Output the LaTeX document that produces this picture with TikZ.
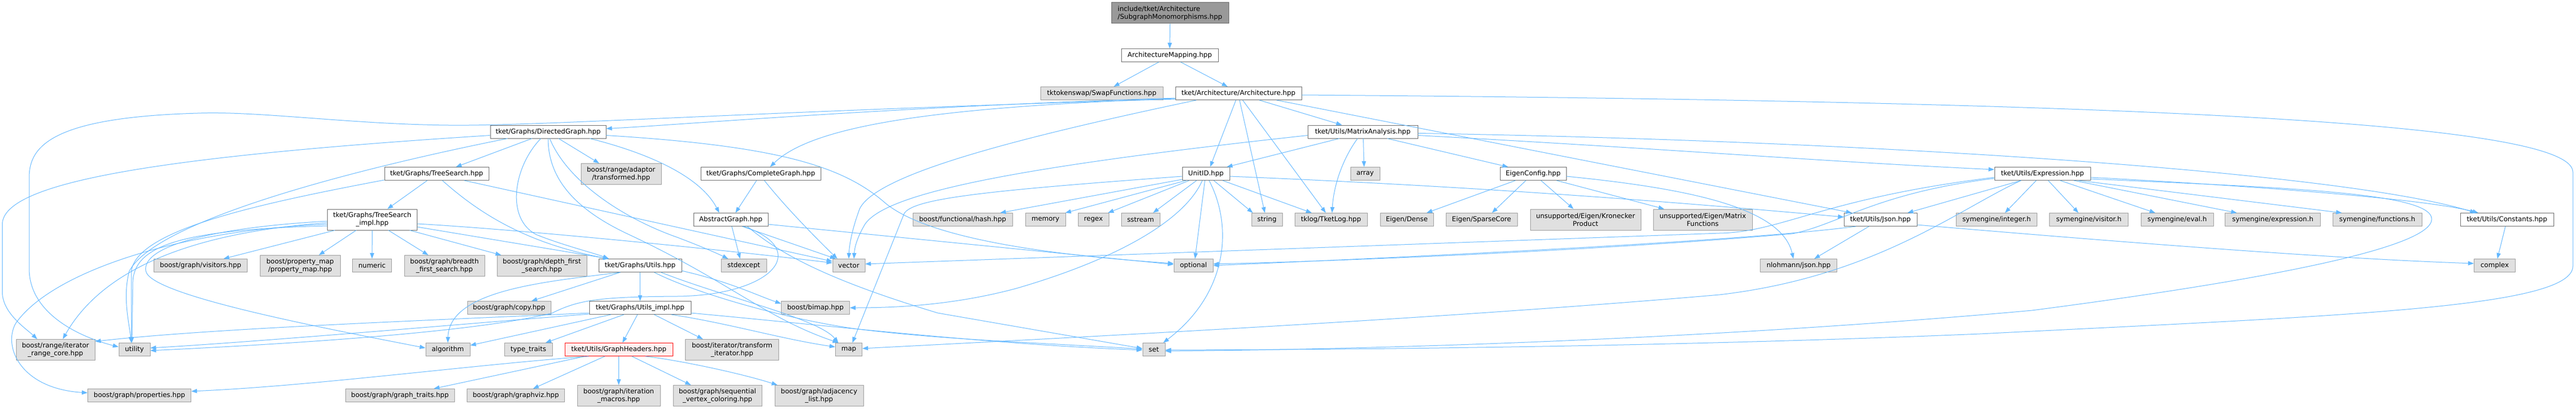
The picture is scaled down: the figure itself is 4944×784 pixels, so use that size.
\documentclass[tikz,border=0pt]{standalone}
\usepackage{fontspec}
\setmainfont{DejaVu Sans}
\usetikzlibrary{arrows.meta}
\definecolor{edgec}{HTML}{63B8FF}
\definecolor{cdk}{HTML}{666666}
\definecolor{cmd}{HTML}{999999}
\definecolor{cfl}{HTML}{E0E0E0}
\definecolor{cpk}{HTML}{FFF0F0}
\tikzset{
  nb/.style={rectangle, inner sep=0pt, line width=1pt, align=center, text=black, font=\fontsize{12.8}{15}\selectfont},
  wn/.style={nb, draw=cdk, fill=white},
  gn/.style={nb, draw=cmd, fill=cfl},
  tn/.style={nb, draw=cdk, fill=cmd, align=left},
  rn/.style={nb, draw=red, fill=cpk},
  edg/.style={draw=edgec, line width=1pt, -{Triangle[length=11pt,width=8pt]}}
}
\newcommand{\mknd}[6]{\node[#1,minimum width=#4pt,minimum height=#5pt] (#2) at (#3) {#6};}
\begin{document}
\begin{tikzpicture}[x=1pt,y=-1pt]
\useasboundingbox (0,0) rectangle (4944,784);
\fill[white] (0,0) rectangle (4944,784);
% nodes
\mknd{tn}{top}{2245.5,25}{225}{40}{include/tket/Architecture\\/SubgraphMonomorphisms.hpp}
\mknd{wn}{am}{2245,106}{186}{25}{ArchitectureMapping.hpp}
\mknd{gn}{swap}{2114.5,179}{235}{25}{tktokenswap/SwapFunctions.hpp}
\mknd{wn}{arch}{2377,179}{242}{25}{tket/Architecture/Architecture.hpp}
\mknd{wn}{dg}{1052,252.5}{222}{25}{tket/Graphs/DirectedGraph.hpp}
\mknd{wn}{ma}{2615.5,252.5}{211}{25}{tket/Utils/MatrixAnalysis.hpp}
\mknd{wn}{ts}{838,333}{200}{25}{tket/Graphs/TreeSearch.hpp}
\mknd{gn}{tr}{1192,333.5}{154}{40}{boost/range/adaptor\\/transformed.hpp}
\mknd{wn}{cg}{1460,333}{230}{25}{tket/Graphs/CompleteGraph.hpp}
\mknd{wn}{uid}{2314.5,333}{91}{25}{UnitID.hpp}
\mknd{gn}{arr}{2620,333}{56}{25}{array}
\mknd{wn}{ec}{2942.5,333}{127}{25}{EigenConfig.hpp}
\mknd{wn}{ex}{3920,333}{184}{25}{tket/Utils/Expression.hpp}
\mknd{wn}{tsi}{714.5,421}{172}{40}{tket/Graphs/TreeSearch\\\_impl.hpp}
\mknd{wn}{ag}{1402.5,421}{143}{25}{AbstractGraph.hpp}
\mknd{gn}{hash}{1847.5,421}{191}{25}{boost/functional/hash.hpp}
\mknd{gn}{mem}{2006.5,421}{77}{25}{memory}
\mknd{gn}{rgx}{2098.5,421}{59}{25}{regex}
\mknd{gn}{sst}{2189,421}{74}{25}{sstream}
\mknd{gn}{str}{2431.5,421}{59}{25}{string}
\mknd{gn}{log}{2554.5,421}{139}{25}{tklog/TketLog.hpp}
\mknd{gn}{dense}{2700,421}{102}{25}{Eigen/Dense}
\mknd{gn}{sparse}{2843.5,421}{137}{25}{Eigen/SparseCore}
\mknd{gn}{kron}{3043,421}{212}{40}{unsupported/Eigen/Kronecker\\Product}
\mknd{gn}{mfun}{3268,421}{190}{40}{unsupported/Eigen/Matrix\\Functions}
\mknd{wn}{json}{3609,421}{140}{25}{tket/Utils/Json.hpp}
\mknd{gn}{sint}{3832,421}{155}{25}{symengine/integer.h}
\mknd{gn}{svis}{4009,421}{151}{25}{symengine/visitor.h}
\mknd{gn}{seval}{4178.5,421}{139}{25}{symengine/eval.h}
\mknd{gn}{sexp}{4362,421}{183}{25}{symengine/expression.h}
\mknd{gn}{sfun}{4562.5,421}{171}{25}{symengine/functions.h}
\mknd{wn}{const}{4811.5,421}{179}{25}{tket/Utils/Constants.hpp}
\mknd{gn}{vis}{385,509}{179}{25}{boost/graph/visitors.hpp}
\mknd{gn}{pmap}{576,509.5}{154}{40}{boost/property\_map\\/property\_map.hpp}
\mknd{gn}{num}{714,509}{75}{25}{numeric}
\mknd{gn}{bfs}{853,509.5}{154}{40}{boost/graph/breadth\\\_first\_search.hpp}
\mknd{gn}{dfs}{1040,509.5}{172}{40}{boost/graph/depth\_first\\\_search.hpp}
\mknd{wn}{gu}{1228.5,509}{159}{25}{tket/Graphs/Utils.hpp}
\mknd{gn}{stdx}{1427.5,509}{87}{25}{stdexcept}
\mknd{gn}{vec}{1629,509}{62}{25}{vector}
\mknd{gn}{opt}{2290.5,509}{75}{25}{optional}
\mknd{gn}{nl}{3452,509}{147}{25}{nlohmann/json.hpp}
\mknd{gn}{cplx}{4788,509}{79}{25}{complex}
\mknd{gn}{copy}{977,590}{160}{25}{boost/graph/copy.hpp}
\mknd{wn}{gui}{1228.5,590}{195}{25}{tket/Graphs/Utils\_impl.hpp}
\mknd{gn}{bimap}{1565,590}{131}{25}{boost/bimap.hpp}
\mknd{gn}{irc}{106.5,670.5}{151}{40}{boost/range/iterator\\\_range\_core.hpp}
\mknd{gn}{util}{258,670}{60}{25}{utility}
\mknd{gn}{alg}{859.5,670}{85}{25}{algorithm}
\mknd{gn}{tt}{1014,670}{92}{25}{type\_traits}
\mknd{rn}{gh}{1187.7,670}{207}{25}{tket/Utils/GraphHeaders.hpp}
\mknd{gn}{ti}{1405,670.5}{179}{40}{boost/iterator/transform\\\_iterator.hpp}
\mknd{gn}{map}{1629,670}{51}{25}{map}
\mknd{gn}{set}{2214.5,670}{43}{25}{set}
\mknd{gn}{prop}{267.6,758}{198}{25}{boost/graph/properties.hpp}
\mknd{gn}{gt}{767.5,758}{209}{25}{boost/graph/graph\_traits.hpp}
\mknd{gn}{gv}{990,758}{187}{25}{boost/graph/graphviz.hpp}
\mknd{gn}{im}{1187.5,758.5}{159}{40}{boost/graph/iteration\\\_macros.hpp}
\mknd{gn}{svc}{1377,758.5}{170}{40}{boost/graph/sequential\\\_vertex\_coloring.hpp}
\mknd{gn}{adj}{1572,758.5}{170}{40}{boost/graph/adjacency\\\_list.hpp}
% edges: top levels
\draw[edg] (top.south) -- (am.north);
\draw[edg] ([xshift=-21pt]am.south) -- ([xshift=23pt]swap.north);
\draw[edg] ([xshift=21pt]am.south) -- ([xshift=-21pt]arch.north);
% Architecture
\draw[edg] ([yshift=-9pt]arch.west) .. controls (1700,205) and (1300,240) .. ([yshift=6pt]dg.east);
\draw[edg] ([yshift=-10pt]arch.west) .. controls (1800,205) and (1560,240) .. ([xshift=18pt]cg.north);
\draw[edg] ([yshift=-11pt]arch.west) .. controls (1500,212) and (1100,238) .. (900,240) .. controls (700,242) and (500,212) .. (379,217) .. controls (100,225) and (56,280) .. (56,340) -- (56,515) .. controls (56,600) and (150,645) .. ([yshift=5pt]util.west);
\draw[edg] ([xshift=-81pt]arch.south) .. controls (1900,275) and (1680,340) .. (1650,400) .. controls (1635,440) and (1630,470) .. (vec.north);
\draw[edg] ([xshift=-5pt]arch.south) -- ([xshift=8pt]uid.north);
\draw[edg] ([xshift=2pt]arch.south) -- ([xshift=-4pt]str.north);
\draw[edg] ([xshift=8pt]arch.south) -- ([xshift=-10pt]log.north);
\draw[edg] ([xshift=40pt]arch.south) -- ([xshift=-40pt]ma.north);
\draw[edg] ([xshift=73pt]arch.south) -- ([xshift=-55pt]json.north);
\draw[edg] ([yshift=-3pt]arch.east) .. controls (4200,195) and (4938,240) .. (4938,330) -- (4938,510) .. controls (4938,590) and (4500,605) .. (3800,640) .. controls (3200,665) and (2600,670) .. ([yshift=-1pt]set.east);
% MatrixAnalysis
\draw[edg] ([yshift=-7pt]ma.west) .. controls (1950,320) and (1700,370) .. (1660,430) .. controls (1645,455) and (1640,475) .. ([xshift=10pt]vec.north);
\draw[edg] ([xshift=-45pt]ma.south) -- ([xshift=40pt]uid.north);
\draw[edg] ([xshift=-10pt]ma.south) .. controls (2580,300) and (2560,350) .. ([xshift=2pt]log.north);
\draw[edg] ([xshift=1pt]ma.south) -- ([xshift=-2pt]arr.north);
\draw[edg] ([xshift=47pt]ma.south) -- ([xshift=-48pt]ec.north);
\draw[edg] ([yshift=-7pt]ma.east) .. controls (3200,285) and (3500,310) .. ([yshift=8pt]ex.west);
\draw[edg] ([yshift=-3pt]ma.east) .. controls (3600,270) and (4500,330) .. ([xshift=-60pt]const.north);
% UnitID
\draw[edg] ([yshift=-5pt]uid.west) .. controls (1900,365) and (1750,380) .. (1735,410) -- ([xshift=7pt]map.north);
\draw[edg] ([yshift=-11pt]uid.west) -- ([xshift=72pt]hash.north);
\draw[edg] ([xshift=-38pt]uid.south) -- ([xshift=38pt]mem.north);
\draw[edg] ([xshift=-32pt]uid.south) -- ([xshift=28pt]rgx.north);
\draw[edg] ([xshift=-18pt]uid.south) -- ([xshift=24pt]sst.north);
\draw[edg] ([xshift=-7pt]uid.south) .. controls (2275,420) and (2150,495) .. (1950,553) .. controls (1830,585) and (1720,590) .. (bimap.east);
\draw[edg] ([xshift=-2pt]uid.south) -- ([xshift=3pt]opt.north);
\draw[edg] ([xshift=6pt]uid.south) .. controls (2365,430) and (2360,560) .. ([xshift=18pt]set.north);
\draw[edg] ([xshift=15pt]uid.south) -- ([xshift=-27pt]str.north);
\draw[edg] ([xshift=32pt]uid.south) -- ([xshift=-37pt]log.north);
\draw[edg] ([yshift=-5pt]uid.east) .. controls (2900,360) and (3300,395) .. ([yshift=5pt]json.west);
% EigenConfig
\draw[edg] ([xshift=-34pt]ec.south) -- ([xshift=38pt]dense.north);
\draw[edg] ([xshift=-14pt]ec.south) -- ([xshift=20pt]sparse.north);
\draw[edg] ([xshift=15pt]ec.south) -- ([xshift=-23pt]kron.north);
\draw[edg] ([xshift=45pt]ec.south) -- ([xshift=-74pt]mfun.north);
\draw[edg] ([yshift=-5pt]ec.east) .. controls (3250,362) and (3420,400) .. ([xshift=-10pt]nl.north);
% Expression
\draw[edg] ([xshift=-41pt]ex.south) -- ([xshift=52pt]json.north);
\draw[edg] ([xshift=-12pt]ex.south) -- ([xshift=16pt]sint.north);
\draw[edg] ([xshift=11pt]ex.south) -- ([xshift=-20pt]svis.north);
\draw[edg] ([xshift=34pt]ex.south) -- ([xshift=-42pt]seval.north);
\draw[edg] ([xshift=60pt]ex.south) -- ([xshift=-69pt]sexp.north);
\draw[edg] ([xshift=69pt]ex.south) -- ([xshift=-68pt]sfun.north);
\draw[edg] ([yshift=-7pt]ex.east) .. controls (4300,355) and (4650,380) .. ([xshift=-55pt]const.north);
\draw[edg] ([yshift=-10pt]ex.east) .. controls (4400,360) and (4667,370) .. (4667,420) .. controls (4667,470) and (4400,530) .. (3900,595) .. controls (3400,640) and (2800,668) .. ([yshift=-3pt]set.east);
\draw[edg] ([yshift=-9pt]ex.west) .. controls (3600,370) and (3530,430) .. (3440,448) .. controls (3100,478) and (2600,500) .. ([yshift=3pt]opt.east);
\draw[edg] ([yshift=-7pt]ex.west) .. controls (3500,380) and (3420,445) .. (3300,447) -- ([yshift=3pt]vec.east);
\draw[edg] ([xshift=-41pt]ex.south) .. controls (3760,400) and (3600,530) .. (3300,565) .. controls (2800,608) and (2200,640) .. ([yshift=2pt]map.east);
% Json, Constants
\draw[edg] ([xshift=-22pt]json.south) -- ([xshift=30pt]nl.north);
\draw[edg] ([yshift=-10pt]json.east) .. controls (4000,458) and (4450,495) .. ([yshift=4pt]cplx.west);
\draw[edg] ([xshift=-47pt]json.south) .. controls (3400,455) and (3000,480) .. (opt.east);
\draw[edg] ([xshift=-3pt]const.south) -- ([xshift=5pt]cplx.north);
% DirectedGraph
\draw[edg] ([yshift=-7pt]dg.west) .. controls (300,300) and (4.5,350) .. (4.5,430) -- (4.5,560) .. controls (4.5,600) and (50,630) .. ([xshift=-35pt]irc.north);
\draw[edg] ([xshift=-78pt]dg.south) .. controls (700,320) and (300,420) .. (248,520) .. controls (235,570) and (248,620) .. ([xshift=-6pt]util.north);
\draw[edg] ([xshift=-31pt]dg.south) -- ([xshift=37pt]ts.north);
\draw[edg] ([xshift=-14pt]dg.south) .. controls (985,320) and (970,420) .. (1030,450) .. controls (1080,470) and (1140,485) .. ([xshift=-60pt]gu.north);
\draw[edg] (dg.south) .. controls (1052,340) and (1100,400) .. (1208,450) .. controls (1400,540) and (1470,610) .. ([xshift=-20pt]map.north);
\draw[edg] ([xshift=3pt]dg.south) .. controls (1090,350) and (1200,420) .. (1300,455) .. controls (1340,470) and (1375,485) .. ([xshift=-30pt]stdx.north);
\draw[edg] ([xshift=20pt]dg.south) -- ([xshift=-42pt]tr.north);
\draw[edg] ([xshift=80pt]dg.south) .. controls (1250,295) and (1345,340) .. ([xshift=-22pt]ag.north);
\draw[edg] ([yshift=-7pt]dg.east) .. controls (1500,280) and (1620,320) .. (1700,390) .. controls (1780,455) and (2000,488) .. ([yshift=4pt]opt.west);
% TreeSearch
\draw[edg] ([xshift=-18pt]ts.south) -- ([xshift=29pt]tsi.north);
\draw[edg] ([xshift=11pt]ts.south) .. controls (910,400) and (1000,465) .. ([xshift=-60pt]gu.north);
\draw[edg] ([xshift=53pt]ts.south) -- ([yshift=8pt]vec.west);
\draw[edg] ([yshift=-12pt]ts.west) .. controls (500,390) and (262,440) .. (252,520) -- ([xshift=-6pt]util.north);
% TreeSearch_impl
\draw[edg] ([xshift=-72pt]tsi.south) -- ([xshift=44pt]vis.north);
\draw[edg] ([xshift=-31pt]tsi.south) -- ([xshift=36pt]pmap.north);
\draw[edg] (tsi.south) -- (num.north);
\draw[edg] ([xshift=31pt]tsi.south) -- ([xshift=-31pt]bfs.north);
\draw[edg] ([xshift=72pt]tsi.south) -- ([xshift=-78pt]dfs.north);
\draw[edg] ([yshift=-14pt]tsi.east) -- ([xshift=-60pt]gu.north);
\draw[edg] ([yshift=-8pt]tsi.east) .. controls (1000,440) and (1400,480) .. ([yshift=5pt]vec.west);
\draw[edg] ([yshift=-3pt]tsi.west) .. controls (420,435) and (270,470) .. (280,520) .. controls (290,565) and (600,625) .. ([yshift=3pt]alg.west);
\draw[edg] ([yshift=-6pt]tsi.west) .. controls (380,445) and (200,510) .. ([xshift=14pt]irc.north);
\draw[edg] ([yshift=-9pt]tsi.west) .. controls (350,440) and (100,520) .. (30,620) .. controls (5,665) and (40,745) .. ([yshift=5pt]prop.west);
\draw[edg] ([yshift=-12pt]tsi.west) .. controls (350,440) and (258,470) .. (255,540) -- ([xshift=-5pt]util.north);
% Graphs/Utils
\draw[edg] ([xshift=-38pt]gu.south) .. controls (1050,540) and (862,555) .. (alg.north);
\draw[edg] ([xshift=-38pt]gu.south) -- ([xshift=43pt]copy.north);
\draw[edg] (gu.south) -- (gui.north);
\draw[edg] ([yshift=-10pt]gu.east) .. controls (1400,540) and (1450,565) .. ([yshift=8pt]bimap.west);
\draw[edg] ([xshift=27pt]gu.south) .. controls (1330,560) and (1500,610) .. (1640,630) .. controls (1800,650) and (1950,655) .. ([yshift=1pt]set.west);
\draw[edg] ([xshift=40pt]gu.south) .. controls (1390,570) and (1570,610) .. ([xshift=-20pt]map.north);
% Utils_impl
\draw[edg] ([yshift=-10pt]gui.west) .. controls (800,615) and (400,630) .. ([yshift=16pt]irc.east);
\draw[edg] ([yshift=-12pt]gui.west) .. controls (900,620) and (500,655) .. ([yshift=3pt]util.east);
\draw[edg] ([xshift=-56pt]gui.south) -- ([yshift=8pt]alg.east);
\draw[edg] ([xshift=-31pt]gui.south) -- ([xshift=33pt]tt.north);
\draw[edg] ([xshift=-5pt]gui.south) -- ([xshift=7pt]gh.north);
\draw[edg] ([xshift=27pt]gui.south) -- ([xshift=-56pt]ti.north);
\draw[edg] ([xshift=60pt]gui.south) .. controls (1400,620) and (1500,650) .. ([yshift=5pt]map.west);
\draw[edg] ([yshift=-10pt]gui.east) .. controls (1600,625) and (1900,660) .. ([yshift=-1pt]set.west);
% AbstractGraph
\draw[edg] ([xshift=2pt]ag.south) -- ([xshift=-7pt]stdx.north);
\draw[edg] ([xshift=22pt]ag.south) -- ([xshift=-25pt]vec.north);
\draw[edg] ([xshift=25pt]ag.south) .. controls (1560,480) and (1480,566) .. (1300,568) .. controls (1150,569) and (1110,575) .. (1060,600) .. controls (900,640) and (500,662) .. ([yshift=-2pt]util.east);
\draw[edg] ([xshift=32pt]ag.south) .. controls (1500,490) and (1600,540) .. (1800,600) -- ([yshift=2pt]set.west);
\draw[edg] ([yshift=-9pt]ag.east) -- ([yshift=2pt]opt.west);
% CompleteGraph
\draw[edg] ([xshift=-8pt]cg.south) -- ([xshift=9pt]ag.north);
\draw[edg] ([xshift=7pt]cg.south) .. controls (1510,400) and (1570,460) .. ([xshift=-22pt]vec.north);
% GraphHeaders
\draw[edg] ([xshift=-58pt]gh.south) .. controls (900,700) and (600,740) .. ([yshift=8pt]prop.east);
\draw[edg] ([xshift=-65pt]gh.south) -- ([xshift=65pt]gt.north);
\draw[edg] ([xshift=-27pt]gh.south) -- ([xshift=33pt]gv.north);
\draw[edg] (gh.south) -- (im.north);
\draw[edg] ([xshift=25pt]gh.south) -- ([xshift=-51pt]svc.north);
\draw[edg] ([xshift=51pt]gh.south) .. controls (1300,690) and (1420,715) .. ([xshift=-80pt]adj.north);
\end{tikzpicture}
\end{document}
